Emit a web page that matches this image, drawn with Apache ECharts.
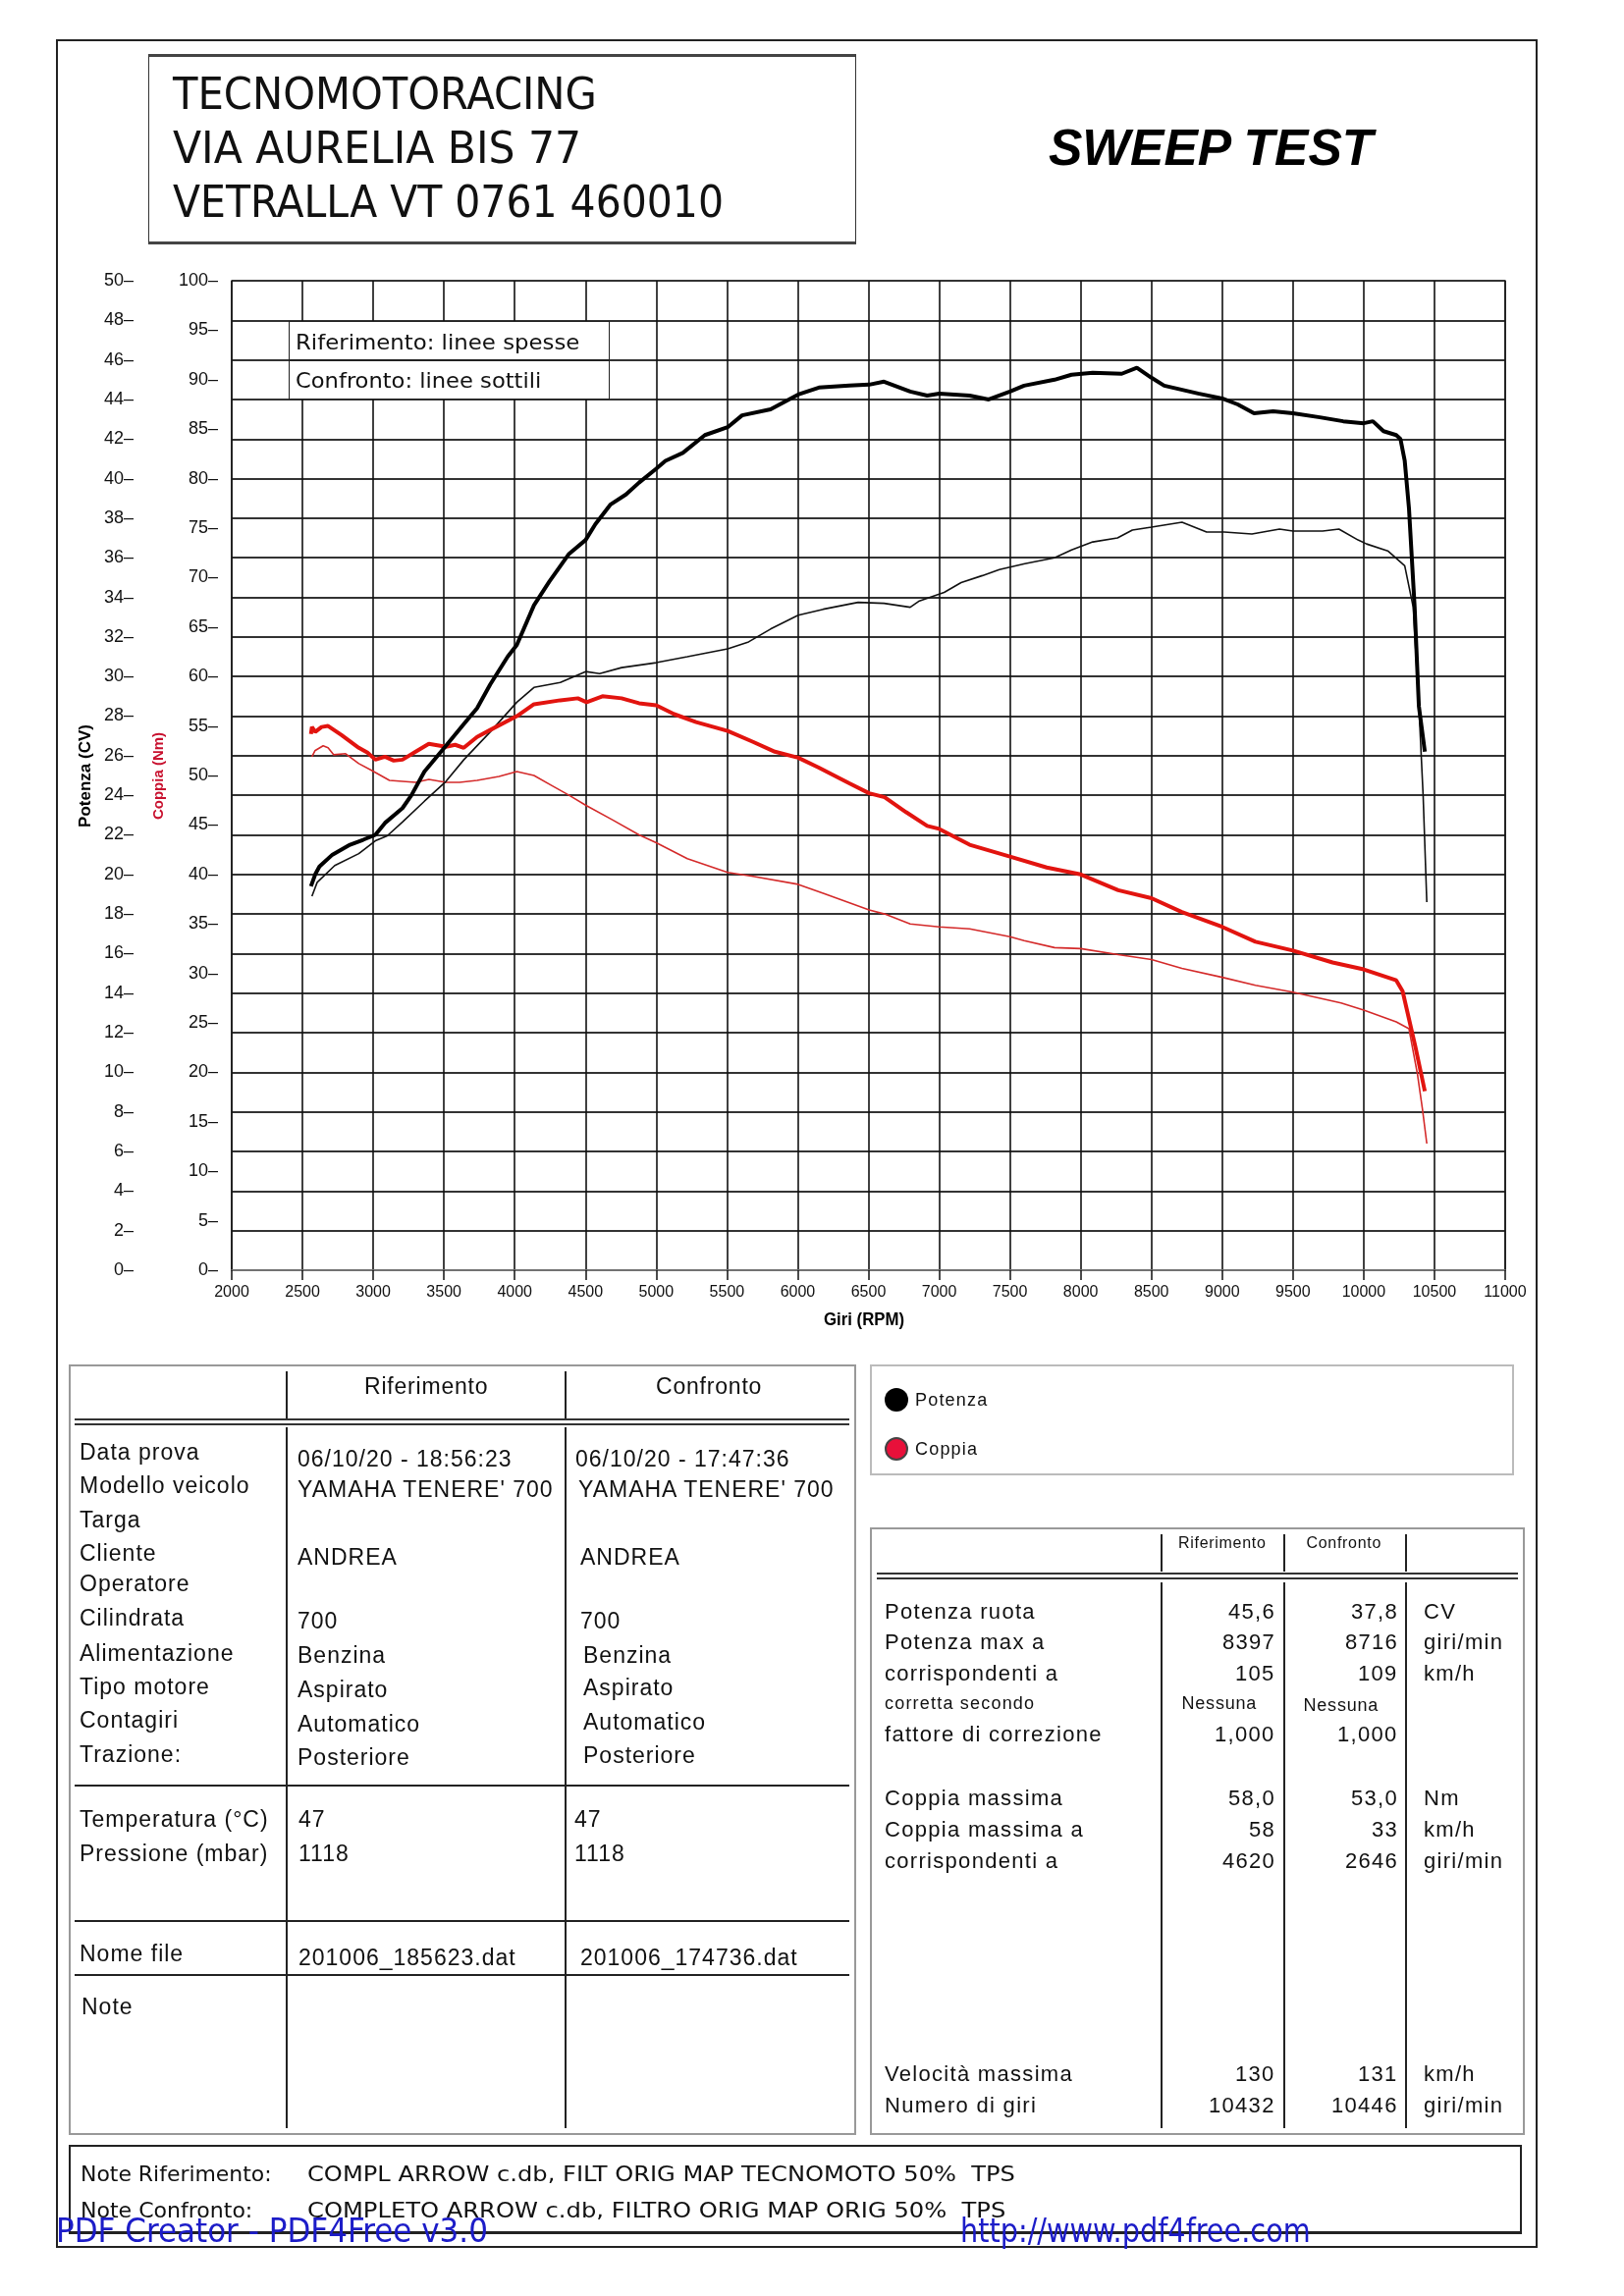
<!DOCTYPE html>
<html><head><meta charset="utf-8">
<script src="https://cdn.jsdelivr.net/npm/echarts@6/dist/echarts.min.js"></script>
<style>
html,body{margin:0;padding:0;background:#fff;}
#page{position:relative;width:1654px;height:2339px;background:#fff;overflow:hidden;}
#chart{position:absolute;left:0;top:0;width:1654px;height:1400px;}
.t{position:absolute;white-space:pre;line-height:1;color:#111;font-family:'Liberation Sans',Arial,sans-serif;transform-origin:left center;}
.b{position:absolute;box-sizing:border-box;}
</style></head>
<body><div id="page"><div id="chart"></div></div>
<script>
// ---------------- DATA ----------------
const refPowerRpm = [2560,2590,2620,2712,2836,2929,3015,3083,3207,3270,3362,3514,3641,3734,3827,3950,4015,4136,4245,4384,4501,4570,4678,4786,4879,5000,5065,5188,5344,5505,5607,5808,6003,6150,6365,6505,6610,6795,6915,7000,7215,7350,7500,7600,7815,7935,8085,8290,8397,8500,8590,8710,8830,9000,9110,9225,9360,9500,9690,9855,10000,10065,10140,10230,10260,10290,10320,10360,10390,10432];
const refPowerCv  = [19.4,20.0,20.4,21.0,21.5,21.75,22.0,22.6,23.35,24.0,25.2,26.5,27.6,28.4,29.6,31.0,31.6,33.6,34.8,36.2,36.9,37.7,38.7,39.2,39.8,40.5,40.9,41.3,42.2,42.6,43.2,43.5,44.25,44.6,44.7,44.75,44.9,44.4,44.2,44.3,44.2,44.0,44.4,44.7,45.0,45.25,45.35,45.3,45.6,45.1,44.7,44.5,44.3,44.05,43.75,43.3,43.4,43.3,43.1,42.9,42.8,42.9,42.4,42.2,42.0,40.9,38.5,33.5,28.5,26.2];

const cmpPowerRpm = [2567,2604,2728,2898,3015,3099,3207,3362,3514,3641,3827,4015,4136,4322,4501,4600,4755,5000,5220,5505,5653,5808,6003,6180,6427,6610,6795,6855,7035,7155,7305,7425,7605,7815,7935,8085,8260,8365,8500,8716,8890,9015,9210,9405,9500,9710,9825,9960,10020,10170,10290,10350,10390,10420,10446];
const cmpPowerCv  = [18.9,19.6,20.45,21.05,21.7,21.95,22.65,23.7,24.7,25.8,27.2,28.7,29.45,29.7,30.25,30.15,30.45,30.7,31.0,31.4,31.75,32.4,33.1,33.4,33.75,33.7,33.5,33.8,34.25,34.75,35.1,35.4,35.7,36.0,36.4,36.8,37.0,37.4,37.55,37.8,37.3,37.3,37.2,37.45,37.35,37.35,37.45,36.9,36.7,36.35,35.6,33.5,28.5,24.0,18.6];

const refTorqueRpm = [2560,2567,2590,2635,2681,2774,2898,2960,3015,3083,3145,3207,3300,3393,3514,3579,3640,3734,3827,4015,4136,4322,4446,4508,4620,4755,4879,5000,5127,5282,5505,5684,5839,6003,6149,6365,6505,6614,6765,6915,7000,7215,7500,7760,8000,8265,8500,8715,9000,9235,9500,9780,10000,10230,10275,10320,10365,10432];
const refTorqueNm  = [54.2,54.9,54.4,54.9,55.0,54.1,52.8,52.3,51.6,51.9,51.5,51.6,52.4,53.2,52.9,53.1,52.8,53.9,54.6,56.0,57.2,57.6,57.8,57.4,58.0,57.8,57.3,57.1,56.2,55.4,54.5,53.4,52.4,51.8,50.8,49.2,48.2,47.8,46.3,44.9,44.6,43.0,41.8,40.7,40.0,38.4,37.6,36.2,34.7,33.2,32.3,31.1,30.4,29.3,28.2,25.4,22.6,18.1];

const cmpTorqueRpm = [2567,2588,2646,2681,2720,2805,2898,2991,3115,3300,3393,3514,3610,3734,3889,4015,4136,4260,4384,4501,4693,4879,5000,5220,5505,5684,6003,6180,6505,6614,6795,7000,7215,7500,7600,7815,8000,8265,8500,8715,9000,9235,9500,9840,10000,10230,10320,10380,10415,10446];
const cmpTorqueNm  = [51.9,52.5,53.0,52.8,52.1,52.2,51.2,50.5,49.5,49.3,49.6,49.3,49.3,49.5,49.9,50.4,50.0,49.0,48.0,47.0,45.5,44.0,43.2,41.6,40.2,39.8,39.0,38.1,36.4,36.0,35.0,34.7,34.5,33.7,33.3,32.6,32.5,31.9,31.4,30.5,29.6,28.8,28.1,27.0,26.3,25.1,24.4,19.8,16.3,12.8];

const leftLabels  = ['Data prova','Modello veicolo','Targa','Cliente','Operatore','Cilindrata','Alimentazione','Tipo motore','Contagiri','Trazione:'];
const refInfo     = ['06/10/20 - 18:56:23',"YAMAHA TENERE' 700",'','ANDREA','','700','Benzina','Aspirato','Automatico','Posteriore'];
const cmpInfo     = ['06/10/20 - 17:47:36',"YAMAHA TENERE' 700",'','ANDREA','','700','Benzina','Aspirato','Automatico','Posteriore'];
const rightLabels = ['Potenza ruota','Potenza max a','corrispondenti a','corretta secondo','fattore di correzione','Coppia massima','Coppia massima a','corrispondenti a','Velocità massima','Numero di giri'];
const refStats    = ['45,6','8397','105','Nessuna','1,000','58,0','58','4620','130','10432'];
const cmpStats    = ['37,8','8716','109','Nessuna','1,000','53,0','33','2646','131','10446'];
const statUnits   = ['CV','giri/min','km/h','','','Nm','km/h','giri/min','km/h','giri/min'];

// ---------------- CHART ----------------
const zip = (a,b)=>a.map((x,i)=>[x,b[i]]);
const narrow = "'Liberation Sans Narrow','DejaVu Sans Condensed','Liberation Sans',sans-serif";
const chart = echarts.init(document.getElementById('chart'), null, {renderer:'canvas'});
chart.setOption({
  animation:false,
  backgroundColor:'#fff',
  grid:{left:236, top:286, width:1297, height:1008, show:true, borderColor:'#444', borderWidth:1.5, backgroundColor:'#fff'},
  xAxis:{type:'value', min:2000, max:11000, interval:500,
    axisLine:{show:true, onZero:false, lineStyle:{color:'#888', width:1.5}},
    axisTick:{show:true, length:10, lineStyle:{color:'#111', width:1.5}},
    axisLabel:{formatter:v=>String(v), fontFamily:"'Liberation Sans',Arial,sans-serif", fontSize:16, color:'#111', margin:15},
    splitLine:{show:true, lineStyle:{color:'#111', width:1.6}}},
  yAxis:[
    {type:'value', min:0, max:50, interval:2, position:'left', offset:100,
     axisLine:{show:false}, axisTick:{show:false},
     axisLabel:{formatter:'{value}–', margin:0, fontSize:18, color:'#111', fontFamily:'Liberation Sans'},
     splitLine:{show:true, lineStyle:{color:'#333', width:2.2}}},
    {type:'value', min:0, max:100, interval:5, position:'left', offset:14,
     axisLine:{show:false}, axisTick:{show:false},
     axisLabel:{formatter:'{value}–', margin:0, fontSize:18, color:'#111', fontFamily:'Liberation Sans'},
     splitLine:{show:false}}
  ],
  series:[
    {type:'line', name:'Coppia confronto', yAxisIndex:1, data:zip(cmpTorqueRpm,cmpTorqueNm), showSymbol:false, lineStyle:{color:'#d42a2a', width:1.6}, z:3},
    {type:'line', name:'Potenza confronto', yAxisIndex:0, data:zip(cmpPowerRpm,cmpPowerCv), showSymbol:false, lineStyle:{color:'#111', width:1.6}, z:3},
    {type:'line', name:'Coppia riferimento', yAxisIndex:1, data:zip(refTorqueRpm,refTorqueNm), showSymbol:false, lineStyle:{color:'#e2140f', width:4}, z:4},
    {type:'line', name:'Potenza riferimento', yAxisIndex:0, data:zip(refPowerRpm,refPowerCv), showSymbol:false, lineStyle:{color:'#000', width:4}, z:5}
  ]
});

// ---------------- PAGE DECORATION ----------------
const page = document.getElementById('page');
function box(x,y,w,h,css){const d=document.createElement('div');d.className='b';d.style.cssText+=`left:${x}px;top:${y}px;width:${w}px;height:${h}px;`+(css||'');page.appendChild(d);return d;}
function hline(x1,x2,y,w,c){return box(x1,y-w/2,x2-x1,w,`background:${c||'#222'};`);}
function vline(x,y1,y2,w,c){return box(x-w/2,y1,w,y2-y1,`background:${c||'#222'};`);}
function txt(s,x,y,o){
  o=o||{};const d=document.createElement('div');d.className='t';d.textContent=s;
  const size=o.size||20;
  d.style.fontSize=size+'px';
  if(o.font)d.style.fontFamily=o.font;
  if(o.weight)d.style.fontWeight=o.weight;
  if(o.style)d.style.fontStyle=o.style;
  if(o.color)d.style.color=o.color;
  if(o.ls!==undefined)d.style.letterSpacing=o.ls+'px';
  d.style.top=(y-size/2)+'px';
  page.appendChild(d);
  const w=d.offsetWidth;
  let sx=1;
  if(o.width){sx=o.width/w;}
  const vw=w*sx;
  let left=x;
  if(o.anchor==='middle')left=x-vw/2;
  else if(o.anchor==='end')left=x-vw;
  d.style.left=left+'px';
  let tr='';
  if(o.rot){d.style.transformOrigin='center center';tr=`rotate(${o.rot}deg)`;d.style.left=(x-w/2)+'px';}
  else if(sx!==1)tr=`scaleX(${sx})`;
  if(tr)d.style.transform=tr;
  return d;
}

// outer frame
box(57,40,1509,2250,'border:2px solid #222;');
// header
box(151,55,721,194,'border:1.5px solid #333;border-top:3px solid #444;border-bottom:3px solid #444;');
const hdrFont="'DejaVu Sans Condensed','DejaVu Sans',sans-serif";
txt('TECNOMOTORACING',176,96,{size:44,font:hdrFont,width:432});
txt('VIA AURELIA BIS 77',176,151,{size:44,font:hdrFont,width:416});
txt('VETRALLA VT 0761 460010',176,206,{size:44,font:hdrFont,width:561});
txt('SWEEP TEST',1068,150,{size:52,font:"'Liberation Sans',Arial,sans-serif",weight:'bold',style:'italic',width:330,color:'#000'});

// in-plot legend box
box(294,327,327,80,'border:1.5px solid #222;background:#fff;');
hline(294,621,367,1.5,'#222');
txt('Riferimento: linee spesse',301,349,{size:21,font:hdrFont,width:290});
txt('Confronto: linee sottili',301,388,{size:21,font:hdrFont,width:250});

// axis titles
txt('Potenza (CV)',86,790,{size:17,weight:'bold',rot:-90,color:'#000'});
txt('Coppia (Nm)',160,790,{size:15,weight:'bold',rot:-90,color:'#c8102e'});
txt('Giri (RPM)',880,1344,{size:18,weight:'bold',anchor:'middle',width:82,color:'#000'});

// ---------------- LEFT TABLE ----------------
box(70,1390,802,785,'border:2px solid #999;');
vline(292,1397,1446,2,'#222');vline(576,1397,1446,2,'#222');
hline(76,865,1446,2,'#333');hline(76,865,1451,2,'#333');
vline(292,1454,2168,2,'#222');vline(576,1454,2168,2,'#222');
hline(76,865,1819,1.5,'#222');hline(76,865,1957,1.5,'#222');hline(76,865,2012,1.5,'#222');
const tf={size:23,ls:1};
txt('Riferimento',434,1412,{size:23,ls:0.8,anchor:'middle'});
txt('Confronto',722,1412,{size:23,ls:0.8,anchor:'middle'});
const lrowY=[1479,1513,1548,1582,1613,1648,1684,1718,1752,1787];
const vrowY=[1486,1517,1552,1586,1618,1651,1686,1721,1756,1790];
leftLabels.forEach((s,i)=>txt(s,81,lrowY[i],tf));
refInfo.forEach((s,i)=>{if(s)txt(s,303,vrowY[i],tf);});
const cx2=[586,589,591,591,591,591,594,594,594,594];
cmpInfo.forEach((s,i)=>{if(s)txt(s,cx2[i],vrowY[i]-(i>=7?2:0),tf);});
txt('Temperatura (°C)',81,1853,tf);txt('Pressione (mbar)',81,1888,tf);
txt('47',304,1853,tf);txt('1118',304,1888,tf);
txt('47',585,1853,tf);txt('1118',585,1888,tf);
txt('Nome file',81,1990,tf);txt('201006_185623.dat',304,1994,tf);txt('201006_174736.dat',591,1994,tf);
txt('Note',83,2044,tf);

// ---------------- RIGHT LEGEND ----------------
box(886,1390,656,113,'border:2px solid #bbb;');
box(901,1414,24,24,'border-radius:50%;background:#000;');
box(901,1464,24,24,'border-radius:50%;background:#e8103a;border:2px solid #444;');
txt('Potenza',932,1426,{size:18,ls:1.2});
txt('Coppia',932,1476,{size:18,ls:1.2});

// ---------------- RIGHT TABLE ----------------
box(886,1556,667,619,'border:2px solid #999;');
[1183,1308,1432].forEach(x=>{vline(x,1563,1601,2,'#222');vline(x,1612,2168,2,'#222');});
hline(893,1546,1603,2,'#333');hline(893,1546,1608,2,'#333');
txt('Riferimento',1245,1572,{size:16,ls:0.7,anchor:'middle'});
txt('Confronto',1369,1572,{size:16,ls:0.7,anchor:'middle'});
const rrowY=[1642,1673,1705,1735,1767,1832,1864,1896,2113,2145];
const rf={size:22,ls:1.3};
rightLabels.forEach((s,i)=>txt(s,901,rrowY[i],i===3?{size:18,ls:1.2}:rf));
refStats.forEach((s,i)=>{ if(i===3) txt(s,1242,rrowY[i],{size:18,ls:0.8,anchor:'middle'}); else txt(s,1299,rrowY[i],Object.assign({anchor:'end'},rf));});
cmpStats.forEach((s,i)=>{ if(i===3) txt(s,1366,rrowY[i]+2,{size:18,ls:0.8,anchor:'middle'}); else txt(s,1424,rrowY[i],Object.assign({anchor:'end'},rf));});
statUnits.forEach((s,i)=>{if(s)txt(s,1450,rrowY[i],rf);});

// ---------------- NOTES ----------------
box(70,2185,1480,91,'border:2px solid #222;border-bottom:3px solid #222;');
txt('Note Riferimento:',82,2215,{size:21,font:narrow,width:195});
txt('COMPL ARROW c.db, FILT ORIG MAP TECNOMOTO 50%  TPS',313,2215,{size:21,font:narrow,width:721});
txt('Note Confronto:',82,2252,{size:21,font:narrow,width:175});
txt('COMPLETO ARROW c.db, FILTRO ORIG MAP ORIG 50%  TPS',313,2252,{size:21,font:narrow,width:711});
txt('PDF Creator - PDF4Free v3.0',57,2272,{size:34,font:narrow,width:440,color:'#1c1cc8'});
txt('http://www.pdf4free.com',978,2272,{size:34,font:narrow,width:357,color:'#1c1cc8'});
</script></body></html>
